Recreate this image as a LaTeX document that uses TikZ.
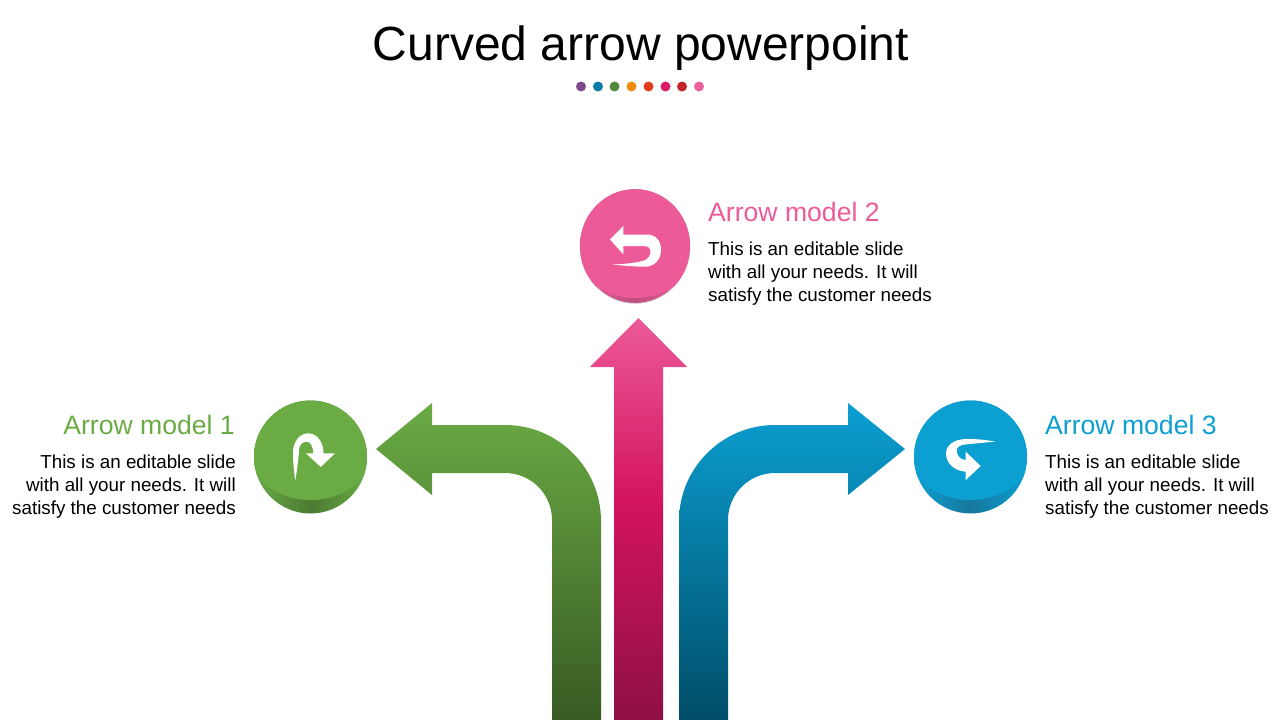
\documentclass[tikz,border=0pt]{standalone}
\usepackage{xcolor}
\usepackage{fontspec}
\setmainfont{Liberation Sans}
\usetikzlibrary{positioning, shapes.geometric}

\definecolor{greenmodel}{HTML}{6AAB44}
\definecolor{greendark}{HTML}{385A23}
\definecolor{greenrim}{HTML}{4A7A32}
\definecolor{pinkmodel}{HTML}{EC5A98}
\definecolor{pinkmid}{HTML}{D4145F}
\definecolor{pinkdark}{HTML}{8E1045}
\definecolor{pinkrim}{HTML}{BE4F80}
\definecolor{bluemodel}{HTML}{0B9FD2}
\definecolor{bluedark}{HTML}{004D68}
\definecolor{bluerim}{HTML}{17789D}

\pgfdeclareverticalshading{pinkfade}{100bp}{color(0bp)=(pinkdark); color(25bp)=(pinkdark); color(52.4bp)=(pinkmid); color(75bp)=(pinkmodel); color(100bp)=(pinkmodel)}
\pgfdeclarehorizontalshading{greenrimfade}{100bp}{color(0bp)=(greenmodel); color(25bp)=(greenmodel); color(50bp)=(greenrim); color(75bp)=(greenmodel); color(100bp)=(greenmodel)}
\pgfdeclarehorizontalshading{pinkrimfade}{100bp}{color(0bp)=(pinkmodel); color(25bp)=(pinkmodel); color(50bp)=(pinkrim); color(75bp)=(pinkmodel); color(100bp)=(pinkmodel)}
\pgfdeclarehorizontalshading{bluerimfade}{100bp}{color(0bp)=(bluemodel); color(25bp)=(bluemodel); color(50bp)=(bluerim); color(75bp)=(bluemodel); color(100bp)=(bluemodel)}

\tikzset{
  ball/.style={circle, inner sep=0pt, minimum size=113pt},
  heading/.style={font=\fontsize{26.6}{26.6}\selectfont, inner sep=0pt},
  bodytext/.style={font=\fontsize{18.8}{22.6}\selectfont, inner sep=0pt, text=black},
  icon/.style={fill=white, draw=none}
}

\begin{document}
\begin{tikzpicture}[x=1pt, y=-1pt, node distance=17pt]
  \useasboundingbox (0,0) rectangle (1280,720);

  \node[font=\fontsize{48}{48}\selectfont, inner sep=0pt] (title) at (641,48) {Curved arrow powerpoint};

  % dots under the title
  \foreach \x/\dotcolor/\dotname in {581/7B4A8C/a, 598/077CA6/b, 614.5/4F8A3A/c, 631.5/F28C0F/d, 648.5/E03C1C/e, 665.5/DC1A6A/f, 682/C12528/g, 699/EE5F9B/h}{
    \definecolor{dotfill}{HTML}{\dotcolor}
    \node[circle, fill=dotfill, inner sep=0pt, minimum size=10pt] (dot\dotname) at (\x,86.5) {};
  }

  % arrows
  \shade[top color=greenmodel, bottom color=greendark]
    (376,449) -- (432,403) -- (432,425) -- (505,425) .. controls (558,425) and (601,468) .. (601,521)
    -- (601,720) -- (552,720) -- (552,520) .. controls (552,494) and (531,473) .. (505,473)
    -- (432,473) -- (432,495) -- cycle;
  \shade[shading=pinkfade]
    (638.5,318) -- (687,367) -- (663,367) -- (663,720) -- (614,720) -- (614,367) -- (590,367) -- cycle;
  \shade[top color=bluemodel, bottom color=bluedark]
    (905,449) -- (848,403) -- (848,425) -- (775,425) .. controls (722,425) and (679,468) .. (679,521)
    -- (679,720) -- (728,720) -- (728,520) .. controls (728,494) and (749,473) .. (775,473)
    -- (848,473) -- (848,495) -- cycle;

  % balls
  \node[ball, shading=greenrimfade] (ballone) at (310.5,457) {};
  \node[ellipse, inner sep=0pt, minimum width=110pt, minimum height=114pt, shading=pinkrimfade, draw=black!20, line width=0.6pt] (balltwo) at (635,246.3) {};
  \node[ball, shading=bluerimfade] (ballthree) at (970.5,457) {};
  \begin{scope}
    \clip (310.5,457) circle[radius=56.5pt];
    \fill[greenmodel] (310.5,451) ellipse[x radius=62pt, y radius=49pt];
    \fill[greenmodel] (250,395) rectangle (371,451);
  \end{scope}
  \begin{scope}
    \clip (635,246.3) ellipse[x radius=55pt, y radius=57pt];
    \fill[pinkmodel] (635,241) ellipse[x radius=64pt, y radius=57pt];
    \fill[pinkmodel] (578,185) rectangle (692,241);
  \end{scope}
  \begin{scope}
    \clip (970.5,457) circle[radius=56.5pt];
    \fill[bluemodel] (970.5,451) ellipse[x radius=62pt, y radius=49pt];
    \fill[bluemodel] (910,395) rectangle (1031,451);
  \end{scope}

  % icons
  \fill[icon] (295.3,480.7) .. controls (293.8,470) and (293,462) .. (293,453)
    .. controls (293,441) and (300,433.3) .. (308.3,433.3) .. controls (317,433.3) and (323.5,442) .. (323.5,453.3)
    -- (335,453.3) -- (320.7,467) -- (306,453.3) -- (313.3,453.3)
    .. controls (313,446) and (310.5,441.7) .. (306.7,441.7) .. controls (302,441.7) and (299.3,445) .. (299,450)
    .. controls (298.5,460) and (297,470) .. (295.3,480.7) -- cycle;
  \fill[icon] (610,239.5) -- (623.3,226) -- (623.3,234.5) -- (647,234.5)
    .. controls (656,234.5) and (661,241) .. (661,250) .. controls (661,260) and (654,266.7) .. (645,266.7)
    .. controls (635,266.7) and (622,265.5) .. (612.5,264.5) .. controls (625,264) and (635,263) .. (642,261)
    .. controls (649,260) and (651,254) .. (650.5,250) .. controls (650,247) and (647,246) .. (644,246)
    -- (623.3,246) -- (623.3,254.3) -- cycle;
  \fill[icon] (995,441.7) .. controls (985,439.5) and (975,439) .. (966.7,439)
    .. controls (953,439) and (946,446) .. (946,453.3) .. controls (946,463) and (954,471) .. (965.7,471.7)
    -- (965.7,480) -- (980.7,466) -- (965.7,451.7) -- (965.7,460)
    .. controls (960,460) and (956.7,455) .. (956.7,450.5) .. controls (956.7,447) and (960,445) .. (965,444.5)
    .. controls (975,443.5) and (985,442.5) .. (995,441.7) -- cycle;

  % texts
  \node[heading, text=greenmodel, anchor=base east] (headone) at (235,434) {Arrow model 1};
  \node[bodytext, align=right, below=21pt of headone.base east, anchor=north east, xshift=1pt] (textone)
    {This is an editable slide\\with all your needs. It will\\satisfy the customer needs};
  \node[heading, text=pinkmodel, anchor=base west] (headtwo) at (708,221) {Arrow model 2};
  \node[bodytext, align=left, below=21pt of headtwo.base west, anchor=north west] (texttwo)
    {This is an editable slide\\with all your needs. It will\\satisfy the customer needs};
  \node[heading, text=bluemodel, anchor=base west] (headthree) at (1045,434) {Arrow model 3};
  \node[bodytext, align=left, below=21pt of headthree.base west, anchor=north west] (textthree)
    {This is an editable slide\\with all your needs. It will\\satisfy the customer needs};
\end{tikzpicture}
\end{document}
